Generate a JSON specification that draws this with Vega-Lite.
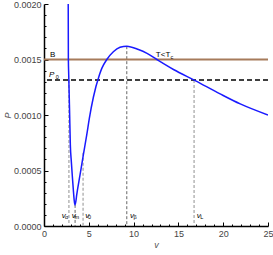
{
  "$schema": "https://vega.github.io/schema/vega-lite/v6.json",
  "width": 224,
  "height": 222,
  "autosize": "none",
  "padding": {"left": 44, "top": 4, "right": 5, "bottom": 29},
  "background": "white",
  "config": {
    "view": {"stroke": null},
    "axis": {"grid": false, "labelFont": "Liberation Sans", "titleFont": "Liberation Sans", "labelColor": "#444", "labelFontSize": 9, "domainColor": "#000", "domainWidth": 1.5, "tickColor": "#000", "tickWidth": 1, "titleColor": "#555", "titleFontWeight": "normal", "titleFontStyle": "italic", "titleFontSize": 9}
  },
  "datasets": {
    "curve": [
      {"v": 2.70, "P": 0.00210},
      {"v": 2.72, "P": 0.00150},
      {"v": 2.76, "P": 0.00136},
      {"v": 2.85, "P": 0.00105},
      {"v": 2.94, "P": 0.00073},
      {"v": 3.05, "P": 0.00058},
      {"v": 3.16, "P": 0.00045},
      {"v": 3.27, "P": 0.00033},
      {"v": 3.36, "P": 0.00024},
      {"v": 3.45, "P": 0.00019},
      {"v": 3.55, "P": 0.00022},
      {"v": 3.65, "P": 0.00028},
      {"v": 4.02, "P": 0.00046},
      {"v": 4.39, "P": 0.00064},
      {"v": 4.77, "P": 0.00082},
      {"v": 5.06, "P": 0.00097},
      {"v": 5.51, "P": 0.00116},
      {"v": 6.18, "P": 0.00136},
      {"v": 6.45, "P": 0.00142},
      {"v": 7.01, "P": 0.00150},
      {"v": 7.74, "P": 0.00157},
      {"v": 8.49, "P": 0.00161},
      {"v": 9.24, "P": 0.00162},
      {"v": 10.54, "P": 0.00159},
      {"v": 11.5, "P": 0.001555},
      {"v": 12.59, "P": 0.00150},
      {"v": 14.45, "P": 0.00141},
      {"v": 16.87, "P": 0.00131},
      {"v": 19.66, "P": 0.00119},
      {"v": 21.90, "P": 0.00110},
      {"v": 25.0, "P": 0.00100}
    ],
    "vlines": [
      {"label": "α", "v": 2.78, "Ptop": 0.001315},
      {"label": "m", "v": 3.47, "Ptop": 0.00019},
      {"label": "0", "v": 4.36, "Ptop": 0.00066},
      {"label": "β", "v": 9.24, "Ptop": 0.00162},
      {"label": "L", "v": 16.75, "Ptop": 0.001315}
    ],
    "hlines": [
      {"name": "B", "P": 0.0015},
      {"name": "P0", "P": 0.001315}
    ],
    "mainItalic": [
      {"t": "v", "v": 1.98, "P": 0.000075},
      {"t": "v", "v": 3.09, "P": 0.000075},
      {"t": "v", "v": 4.61, "P": 0.000075},
      {"t": "v", "v": 9.61, "P": 0.000075},
      {"t": "v", "v": 17.06, "P": 0.000075},
      {"t": "P", "v": 0.56, "P": 0.00134}
    ],
    "mainPlain": [
      {"t": "B", "v": 0.67, "P": 0.00152},
      {"t": "T<T", "v": 12.48, "P": 0.001525}
    ],
    "subs": [
      {"t": "α", "v": 2.35, "P": 0.00006},
      {"t": "m", "v": 3.40, "P": 0.00006},
      {"t": "0", "v": 4.92, "P": 0.00006},
      {"t": "β", "v": 10.0, "P": 0.00006},
      {"t": "L", "v": 17.43, "P": 0.00006},
      {"t": "0", "v": 1.30, "P": 0.001325},
      {"t": "c", "v": 14.13, "P": 0.001505}
    ]
  },
  "encoding": {
    "x": {"field": "v", "type": "quantitative", "scale": {"domain": [0, 25], "nice": false, "zero": false},
      "axis": {"title": "v", "values": [0,1,2,3,4,5,6,7,8,9,10,11,12,13,14,15,16,17,18,19,20,21,22,23,24,25],
        "labelExpr": "datum.value % 5 === 0 ? datum.label : ''",
        "tickSize": {"condition": {"test": "datum.value % 5 === 0", "value": -4}, "value": -2},
        "labelPadding": 7, "labelFlush": false, "titlePadding": 2}},
    "y": {"field": "P", "type": "quantitative", "scale": {"domain": [0, 0.002], "nice": false, "zero": false},
      "axis": {"title": "P", "format": ".4f", "values": [0,0.0001,0.0002,0.0003,0.0004,0.0005,0.0006,0.0007,0.0008,0.0009,0.001,0.0011,0.0012,0.0013,0.0014,0.0015,0.0016,0.0017,0.0018,0.0019,0.002],
        "labelExpr": "round(datum.value*10000) % 5 === 0 ? datum.label : ''",
        "tickSize": {"condition": {"test": "round(datum.value*10000) % 5 === 0", "value": -4}, "value": -2},
        "labelPadding": 7, "labelFlush": false, "titlePadding": 1}}
  },
  "layer": [
    {
      "data": {"name": "vlines"},
      "transform": [{"filter": "datum.label === 'α' || datum.label === '0' || datum.label === 'L'"}],
      "mark": {"type": "rule", "color": "#aaaaaa", "strokeWidth": 1.3, "strokeDash": [3, 2]},
      "encoding": {"y": {"field": "Ptop", "type": "quantitative"}, "y2": {"datum": 0}}
    },
    {
      "data": {"name": "vlines"},
      "transform": [{"filter": "datum.label === 'm' || datum.label === 'β'"}],
      "mark": {"type": "rule", "color": "#666666", "strokeWidth": 1, "strokeDash": [3, 2]},
      "encoding": {"y": {"field": "Ptop", "type": "quantitative"}, "y2": {"datum": 0}}
    },
    {
      "data": {"name": "hlines"},
      "transform": [{"filter": "datum.name === 'B'"}],
      "mark": {"type": "rule", "color": "#A67B5B", "strokeWidth": 2},
      "encoding": {"x": null}
    },
    {
      "data": {"name": "hlines"},
      "transform": [{"filter": "datum.name === 'P0'"}],
      "mark": {"type": "rule", "color": "#000000", "strokeWidth": 1.5, "strokeDash": [5, 3]},
      "encoding": {"x": null}
    },
    {
      "data": {"name": "curve"},
      "mark": {"type": "line", "color": "#1a1aff", "strokeWidth": 1.5, "interpolate": "monotone", "clip": true}
    },
    {
      "data": {"name": "mainItalic"},
      "mark": {"type": "text", "align": "left", "baseline": "alphabetic", "fontSize": 8, "fontStyle": "italic", "font": "Liberation Sans", "color": "#000"},
      "encoding": {"text": {"field": "t"}}
    },
    {
      "data": {"name": "mainPlain"},
      "mark": {"type": "text", "align": "left", "baseline": "alphabetic", "fontSize": 8, "font": "Liberation Sans", "color": "#000"},
      "encoding": {"text": {"field": "t"}}
    },
    {
      "data": {"name": "subs"},
      "mark": {"type": "text", "align": "left", "baseline": "alphabetic", "fontSize": 5.5, "font": "Liberation Sans", "color": "#000"},
      "encoding": {"text": {"field": "t"}}
    }
  ]
}
